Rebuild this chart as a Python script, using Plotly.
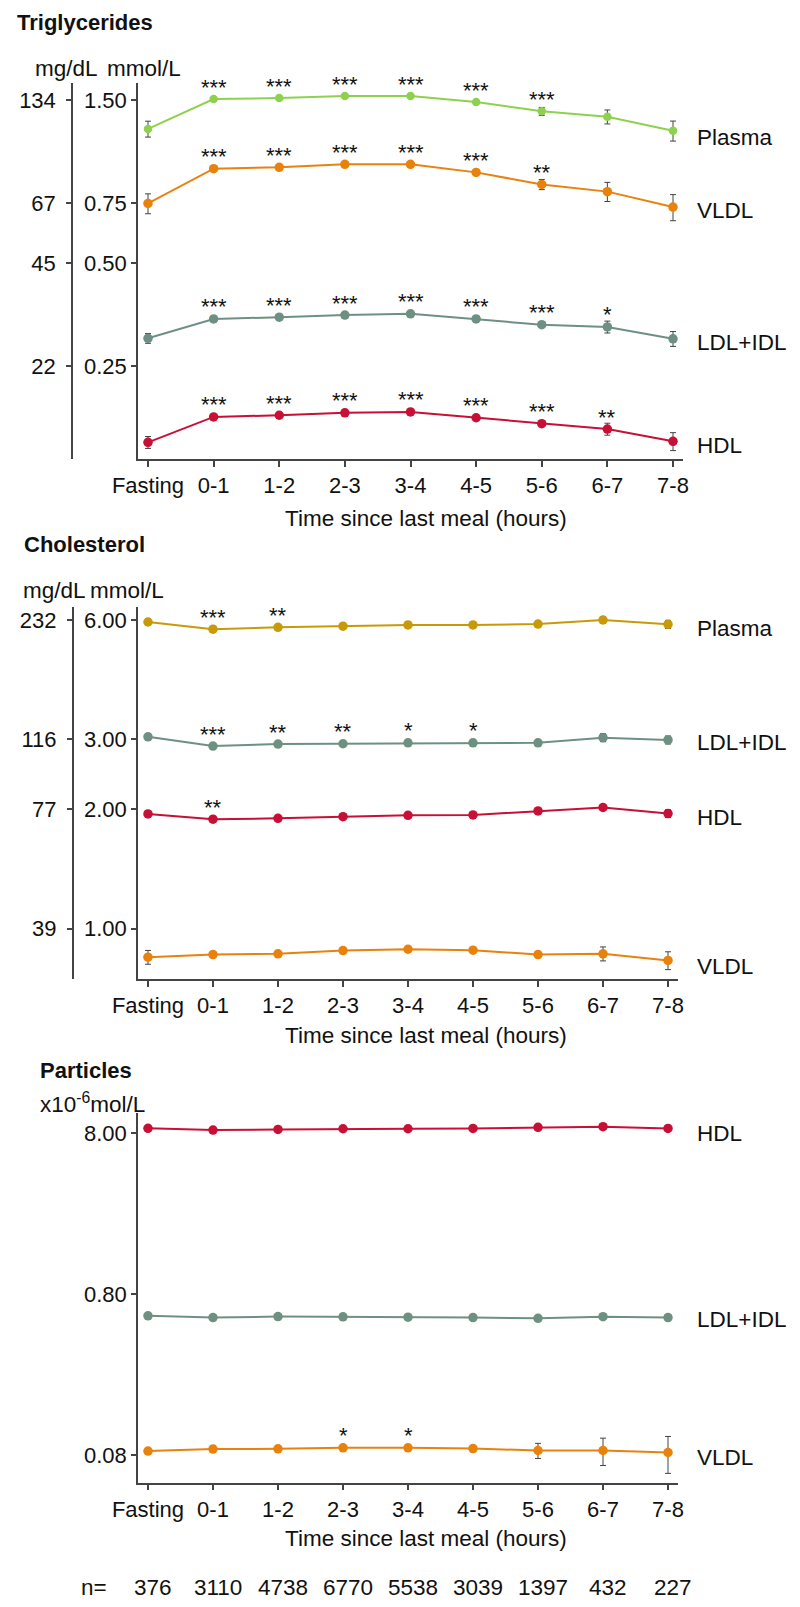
import math
import plotly.graph_objects as go

W, H = 800, 1607
FONT = "Liberation Sans, Arial, sans-serif"

times = ["Fasting", "0-1", "1-2", "2-3", "3-4", "4-5", "5-6", "6-7", "7-8"]
xpos = list(range(len(times)))
n_counts = [376, 3110, 4738, 6770, 5538, 3039, 1397, 432, 227]

# Triglycerides (mmol/L)
tg_plasma = [1.235, 1.51, 1.52, 1.54, 1.54, 1.48, 1.39, 1.34, 1.22]
tg_plasma_err = [0.066, 0.015, 0.015, 0.010, 0.010, 0.020, 0.037, 0.063, 0.082]
tg_vldl = [0.748, 0.945, 0.954, 0.973, 0.973, 0.922, 0.85, 0.81, 0.73]
tg_vldl_err = [0.050, 0.0095, 0.0096, 0.0065, 0.0065, 0.012, 0.029, 0.052, 0.064]
tg_ldl = [0.302, 0.344, 0.348, 0.353, 0.356, 0.344, 0.331, 0.326, 0.301]
tg_ldl_err = [0.010, 0.0023, 0.0023, 0.0024, 0.0024, 0.0023, 0.0045, 0.013, 0.015]
tg_hdl = [0.150, 0.178, 0.180, 0.183, 0.184, 0.177, 0.170, 0.164, 0.151]
tg_hdl_err = [0.006, 0.0012, 0.0012, 0.0012, 0.0012, 0.0012, 0.0023, 0.0066, 0.0091]
tg_plasma_sig = ["", "***", "***", "***", "***", "***", "***", "", ""]
tg_vldl_sig = ["", "***", "***", "***", "***", "***", "**", "", ""]
tg_ldl_sig = ["", "***", "***", "***", "***", "***", "***", "*", ""]
tg_hdl_sig = ["", "***", "***", "***", "***", "***", "***", "**", ""]
tg_ticks = [0.25, 0.50, 0.75, 1.50]
tg_ticks_mmol = ["0.25", "0.50", "0.75", "1.50"]
tg_ticks_mg = ["22", "45", "67", "134"]

# Cholesterol (mmol/L)
ch_plasma = [5.93, 5.69, 5.75, 5.79, 5.83, 5.83, 5.86, 6.00, 5.85]
ch_plasma_err = [0.10, 0.033, 0.033, 0.034, 0.034, 0.034, 0.068, 0.105, 0.136]
ch_ldl = [3.045, 2.885, 2.92, 2.925, 2.94, 2.94, 2.94, 3.03, 2.99]
ch_ldl_err = [0.053, 0.017, 0.017, 0.017, 0.017, 0.017, 0.034, 0.070, 0.069]
ch_hdl = [1.946, 1.887, 1.897, 1.915, 1.93, 1.935, 1.98, 2.02, 1.95]
ch_hdl_err = [0.023, 0.011, 0.011, 0.011, 0.011, 0.011, 0.017, 0.035, 0.045]
ch_vldl = [0.847, 0.860, 0.864, 0.880, 0.887, 0.882, 0.860, 0.864, 0.831]
ch_vldl_err = [0.034, 0.005, 0.005, 0.005, 0.005, 0.005, 0.015, 0.035, 0.043]
ch_plasma_sig = ["", "***", "**", "", "", "", "", "", ""]
ch_ldl_sig = ["", "***", "**", "**", "*", "*", "", "", ""]
ch_hdl_sig = ["", "**", "", "", "", "", "", "", ""]
ch_vldl_sig = [""] * 9
ch_ticks = [1.0, 2.0, 3.0, 6.0]
ch_ticks_mmol = ["1.00", "2.00", "3.00", "6.00"]
ch_ticks_mg = ["39", "77", "116", "232"]

# Particles (x10^-6 mol/L)
pa_hdl = [8.59, 8.38, 8.46, 8.54, 8.54, 8.58, 8.72, 8.79, 8.58]
pa_hdl_err = [0.12, 0.04, 0.04, 0.04, 0.04, 0.05, 0.08, 0.12, 0.12]
pa_ldl = [0.587, 0.572, 0.580, 0.578, 0.575, 0.572, 0.566, 0.579, 0.572]
pa_ldl_err = [0.006, 0.003, 0.003, 0.003, 0.003, 0.003, 0.005, 0.007, 0.008]
pa_vldl = [0.0846, 0.0871, 0.0874, 0.0886, 0.0886, 0.0877, 0.0853, 0.0853, 0.0829]
pa_vldl_err = [0.0012, 0.0037, 0.0025, 0.0013, 0.0025, 0.0038, 0.0092, 0.0165, 0.0214]
pa_hdl_sig = [""] * 9
pa_ldl_sig = [""] * 9
pa_vldl_sig = ["", "", "", "*", "*", "", "", "", ""]
pa_ticks = [0.08, 0.8, 8.0]
pa_ticks_txt = ["0.08", "0.80", "8.00"]

GREEN = "#8DD14F"
ORANGE = "#E8820C"
GREYGREEN = "#6E9082"
CRIMSON = "#C80F35"
GOLD = "#C99A08"
AX = "#444444"
TXT = "#111111"


def py(px):
    return 1 - px / H


fig = go.Figure()
annotations = []


def add_series(vals, errs, color, xa, ya, sig, label, label_shift, msize=9.5):
    fig.add_trace(go.Scatter(
        x=xpos, y=vals, xaxis=xa, yaxis=ya, mode="lines+markers",
        line=dict(color=color, width=2),
        marker=dict(color=color, size=msize),
        error_y=dict(type="data", array=errs, color=AX, thickness=1, width=3),
        showlegend=False, hoverinfo="skip"))
    for i, s in enumerate(sig):
        if s:
            annotations.append(dict(
                x=xpos[i], y=math.log10(vals[i]), xref=xa, yref=ya,
                text=s, showarrow=False, yanchor="middle", yshift=12,
                font=dict(size=22, color=TXT, family=FONT)))
    annotations.append(dict(
        x=695 / W, xref="paper", xanchor="left", y=math.log10(vals[-1]), yref=ya,
        yshift=label_shift, text=label, showarrow=False,
        font=dict(size=22.5, color=TXT, family=FONT)))


# panel 1
add_series(tg_plasma, tg_plasma_err, GREEN, "x", "y", tg_plasma_sig, "Plasma", -7, 8.5)
add_series(tg_vldl, tg_vldl_err, ORANGE, "x", "y", tg_vldl_sig, "VLDL", -3)
add_series(tg_ldl, tg_ldl_err, GREYGREEN, "x", "y", tg_ldl_sig, "LDL+IDL", -4)
add_series(tg_hdl, tg_hdl_err, CRIMSON, "x", "y", tg_hdl_sig, "HDL", -4)
# panel 2
add_series(ch_plasma, ch_plasma_err, GOLD, "x2", "y3", ch_plasma_sig, "Plasma", -4)
add_series(ch_ldl, ch_ldl_err, GREYGREEN, "x2", "y3", ch_ldl_sig, "LDL+IDL", -3)
add_series(ch_hdl, ch_hdl_err, CRIMSON, "x2", "y3", ch_hdl_sig, "HDL", -4)
add_series(ch_vldl, ch_vldl_err, ORANGE, "x2", "y3", ch_vldl_sig, "VLDL", -6)
# panel 3
add_series(pa_hdl, pa_hdl_err, CRIMSON, "x3", "y5", pa_hdl_sig, "HDL", -5)
add_series(pa_ldl, pa_ldl_err, GREYGREEN, "x3", "y5", pa_ldl_sig, "LDL+IDL", -2)
add_series(pa_vldl, pa_vldl_err, ORANGE, "x3", "y5", pa_vldl_sig, "VLDL", -5)

# invisible carriers for the secondary (mg/dL) axes
fig.add_trace(go.Scatter(x=xpos, y=tg_plasma, xaxis="x", yaxis="y2", mode="markers",
                         marker=dict(opacity=0), showlegend=False, hoverinfo="skip"))
fig.add_trace(go.Scatter(x=xpos, y=ch_plasma, xaxis="x2", yaxis="y4", mode="markers",
                         marker=dict(opacity=0), showlegend=False, hoverinfo="skip"))

tickfont = dict(size=22, color=TXT, family=FONT)


def xax(left, right, unit, last_px, anchor):
    return dict(domain=[left / W, right / W],
                range=[-(10) / unit, 8 + (right - last_px) / unit],
                anchor=anchor, tickmode="array", tickvals=xpos, ticktext=times,
                showline=True, linecolor=AX, linewidth=1.5, ticks="outside", ticklen=6,
                tickcolor=AX, tickwidth=1.5, showgrid=False, zeroline=False, tickfont=tickfont,
                fixedrange=True, automargin=False)


def yax(top, bottom, lo, hi, vals, txt, anchor=None, overlay=None, pos=None):
    d = dict(domain=[py(bottom), py(top)], type="log", range=[math.log10(lo), math.log10(hi)],
             tickmode="array", tickvals=vals, ticktext=txt, showline=True, linecolor=AX,
             linewidth=1.5, ticks="outside", ticklen=5, tickcolor=AX, tickwidth=1.5,
             showgrid=False, zeroline=False, tickfont=tickfont, fixedrange=True,
             automargin=False)
    if overlay:
        d.update(overlaying=overlay, anchor="free", position=pos, side="left",
                 ticklabelstandoff=6)
    else:
        d.update(anchor=anchor)
    return d


fig.update_layout(
    width=W, height=H, margin=dict(l=0, r=0, t=0, b=0, autoexpand=False),
    paper_bgcolor="white", plot_bgcolor="white", showlegend=False,
    font=dict(family=FONT, color=TXT),
    xaxis=xax(138, 683, 65.6, 673, "y"),
    xaxis2=xax(138, 678, 65.1, 668, "y3"),
    xaxis3=xax(138, 678, 65.1, 668, "y5"),
    yaxis=yax(83, 459, 0.1341, 1.682, tg_ticks, tg_ticks_mmol, anchor="x"),
    yaxis2=yax(83, 459, 0.1341, 1.682, tg_ticks, tg_ticks_mg, overlay="y", pos=72 / W),
    yaxis3=yax(607, 979.3, 0.745, 6.47, ch_ticks, ch_ticks_mmol, anchor="x2"),
    yaxis4=yax(607, 979.3, 0.745, 6.47, ch_ticks, ch_ticks_mg, overlay="y3", pos=72.7 / W),
    yaxis5=yax(1113, 1482.7, 0.0538, 10.7, pa_ticks, pa_ticks_txt, anchor="x3"),
)


def paper_text(text, xc, yc, size=22, bold=False, anchor="center"):
    annotations.append(dict(
        x=xc / W, y=py(yc), xref="paper", yref="paper", xanchor=anchor, yanchor="middle",
        text=f"<b>{text}</b>" if bold else text, showarrow=False,
        font=dict(size=size, color=TXT, family=FONT)))


paper_text("Triglycerides", 15, 22, 22, True, "left")
paper_text("mg/dL", 33, 69, 22.5, False, "left")
paper_text("mmol/L", 105, 69, 22.5, False, "left")
paper_text("Time since last meal (hours)", 426, 518, 22.5)

paper_text("Cholesterol", 22, 544, 22, True, "left")
paper_text("mg/dL", 21, 590, 22.5, False, "left")
paper_text("mmol/L", 88, 590, 22.5, False, "left")
paper_text("Time since last meal (hours)", 426, 1035, 22.5)

paper_text("Particles", 38, 1070, 22, True, "left")
paper_text("x10<sup>-6</sup>mol/L", 38, 1103, 22.5, False, "left")
paper_text("Time since last meal (hours)", 426, 1538, 22.5)

paper_text("n=", 94, 1587, 22.5)
for i, n in enumerate(n_counts):
    annotations.append(dict(
        x=xpos[i], y=py(1587), xref="x3", yref="paper", xshift=5, yanchor="middle",
        text=str(n), showarrow=False, font=dict(size=22.5, color=TXT, family=FONT)))

fig.update_layout(annotations=annotations)
fig.write_html(
    "out.html",
    config={"displayModeBar": False},
    post_script="document.body.style.margin='0';document.body.style.overflow='hidden';",
)
